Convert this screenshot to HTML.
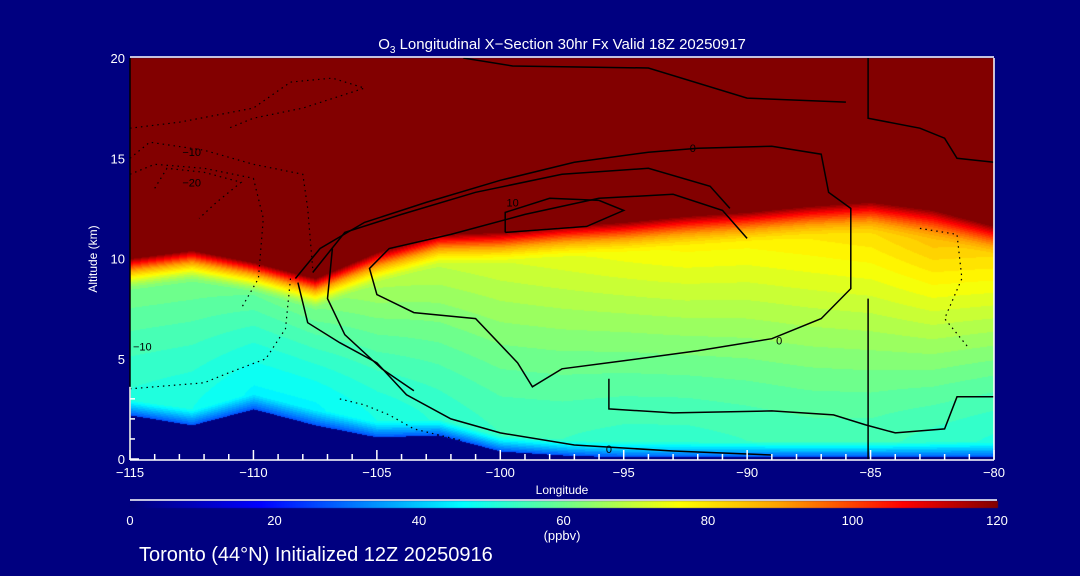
<!DOCTYPE html>
<html><head><meta charset="utf-8"><style>
html,body{margin:0;padding:0;background:#000080;width:1080px;height:576px;overflow:hidden}
#wrap{position:relative;width:1080px;height:576px;font-family:"Liberation Sans",sans-serif;color:#fff}
canvas,svg{position:absolute;left:0;top:0}
</style></head><body>
<div id="wrap">
<canvas id="cv" width="1080" height="576"></canvas>
<svg id="sv" width="1080" height="576"></svg>
</div>
<script>
// ---- data ----
const lons = [-115,-112.5,-110,-107.5,-105,-102.5,-100,-97.5,-95,-92.5,-90,-87.5,-85,-82.5,-80];
const tropAlt = [10.0,10.4,9.8,9.0,10.3,11.2,11.3,11.6,11.8,12.1,12.3,12.6,12.8,12.4,11.6];
const terrainAlt = [2.2,1.7,2.5,1.7,1.1,1.2,0.4,0.2,0.1,0.1,0.1,0.1,0.1,0.1,0.1];
const upperVal = [62,62,60,62,68,70,72,74,76,78,78,80,82,86,82];
const lowerVal = [52,50,47,47,50,53,55,55,54,54,55,56,56,54,52];
const xTicks = [-115,-110,-105,-100,-95,-90,-85,-80];
const yTicks = [0,5,10,15,20];
const cbTicks = [0,20,40,60,80,100,120];
const solidContours = [
 [[-108.3,9.0],[-107.3,10.5],[-105.5,11.8],[-103,12.8],[-100,13.9],[-97,14.8],[-94,15.3],[-92,15.5],[-89,15.6],[-87,15.2],[-86.7,13.3],[-85.8,12.5],[-85.8,8.5],[-87,7],[-89,6],[-92,5.4],[-95,4.9],[-97.5,4.5],[-98.7,3.6],[-99.3,4.8],[-101,7],[-103.5,7.3],[-105,8.2],[-105.3,9.5],[-104.5,10.5],[-102,11.2],[-99,12.2],[-96,13],[-93,13.2],[-91,12.4],[-90,11]],
 [[-107.6,9.3],[-106.3,11.3],[-104,12.2],[-101,13.3],[-97.5,14.2],[-94,14.5],[-91.5,13.6],[-90.7,12.5]],
 [[-99.8,11.3],[-99.8,12.3],[-98,13],[-96,12.9],[-95,12.4],[-96.5,11.6],[-99.8,11.3]],
 [[-108.2,8.8],[-107.8,6.8],[-106.5,5.8],[-105,4.8],[-103.8,3.2],[-102,2.0],[-100,1.3],[-97,0.7],[-93,0.4],[-89,0.2]],
 [[-106.8,10.5],[-107,8.0],[-106.3,6.2],[-104.8,4.5],[-103.5,3.4]],
 [[-95.6,4.0],[-95.6,2.5],[-93,2.3],[-89,2.4],[-86.5,2.2],[-85.2,1.7],[-84,1.3],[-82,1.5],[-81.5,3.1],[-80,3.1]],
 [[-85.1,20],[-85.1,17],[-83,16.5],[-82,16],[-81.5,15],[-80,14.8]],
 [[-101.5,20],[-99.5,19.6],[-94,19.5],[-90,18],[-86,17.8]],
 [[-85.1,8],[-85.1,0]]
];
const dottedContours = [
 [[-115,16.5],[-113,16.8],[-110,17.5],[-108.5,18.8],[-106.8,19],[-105.5,18.5],[-108,17.5],[-110,17],[-111,16.5]],
 [[-115,15],[-114.2,15.8],[-112,15.4],[-110,14.7],[-108,14.2],[-107.8,12.5],[-107.6,9.5]],
 [[-114,13.5],[-113.5,14.5],[-112,14.3],[-110.5,13.8],[-111.5,12.8],[-112.2,12]],
 [[-115,14.2],[-114,14.7],[-112,14.5],[-110,14],[-109.6,12],[-109.8,9],[-110.5,7.5]],
 [[-108.5,9],[-108.7,6.5],[-109.5,5],[-111,4.3],[-112,3.8],[-115,3.5]],
 [[-106.5,3.0],[-105.5,2.7],[-104.5,2.2],[-103.5,1.5],[-101.5,0.9]],
 [[-83,11.5],[-81.5,11.2],[-81.3,9],[-82,7],[-81,5.5]]
];
// ---- geometry ----
const X0=130,X1=994,Y0=459,Y1=58;
function xS(l){return X0+(l+115)/35*(X1-X0);}
function yS(a){return Y0-a/20*(Y0-Y1);}
function interp(arr,l){
  if(l<=lons[0])return arr[0];
  for(let i=0;i<lons.length-1;i++){if(l<=lons[i+1]){const t=(l-lons[i])/(lons[i+1]-lons[i]);return arr[i]+(arr[i+1]-arr[i])*t;}}
  return arr[arr.length-1];
}
const cstops=[[0,[0,0,120]],[18,[0,0,255]],[30,[0,110,255]],[46,[0,255,255]],[60,[110,255,140]],[76,[255,255,0]],[90,[255,160,0]],[107,[255,0,0]],[120,[130,0,0]]];
function cmap(v){
  v=Math.max(0,Math.min(120,v));
  for(let i=0;i<cstops.length-1;i++){const a=cstops[i],b=cstops[i+1];if(v<=b[0]){const t=(v-a[0])/(b[0]-a[0]);return [0,1,2].map(k=>Math.round(a[1][k]+(b[1][k]-a[1][k])*t));}}
  return cstops[cstops.length-1][1];
}
function val(l,a){
  const T=interp(tropAlt,l),G=interp(terrainAlt,l),U=interp(upperVal,l),L=interp(lowerVal,l);
  if(a<G)return null;
  if(a>=T)return 120;
  const Ts=T-1.6;
  if(a>Ts){const t=(a-Ts)/1.6;return U+(120-U)*Math.pow(t,1.5);}
  const h=a-G;
  if(h<0.8)return 28+(L-28)*(h/0.8);
  const f=(a-(G+0.8))/(Ts-(G+0.8));return L+(U-L)*Math.pow(f,1.3);
}
// ---- field ----
const cv=document.getElementById('cv'),ctx=cv.getContext('2d');
const img=ctx.createImageData(X1-X0,Y0-Y1);
for(let py=0;py<Y0-Y1;py++){for(let px=0;px<X1-X0;px++){
  const l=-115+px/(X1-X0)*35,a=(Y0-Y1-py)/(Y0-Y1)*20;
  let v=val(l,a);const i=(py*(X1-X0)+px)*4;
  let c=v===null?[0,0,128]:cmap(Math.floor(v/2.5)*2.5);
  img.data[i]=c[0];img.data[i+1]=c[1];img.data[i+2]=c[2];img.data[i+3]=255;}}
ctx.putImageData(img,X0,Y1);
// colorbar
for(let x=X0;x<=997;x++){const c=cmap((x-X0)/(997-X0)*120);ctx.fillStyle=`rgb(${c[0]},${c[1]},${c[2]})`;ctx.fillRect(x,501,1,7);}
// ---- overlay ----
const NS='http://www.w3.org/2000/svg',sv=document.getElementById('sv');
function mk(tag,at,parent){const e=document.createElementNS(NS,tag);for(const k in at)e.setAttribute(k,at[k]);(parent||sv).appendChild(e);return e;}
function pts(c){return c.map(p=>xS(p[0]).toFixed(1)+','+yS(p[1]).toFixed(1)).join(' ');}
solidContours.forEach(c=>{const e=mk('polyline',{points:pts(c),fill:'none',stroke:'#000','stroke-width':1.5});

});
dottedContours.forEach(c=>{const e=mk('polyline',{points:pts(c),fill:'none',stroke:'#000','stroke-width':1.2,'stroke-dasharray':'1.5 4'});

});
// axes
const ax=mk('g',{stroke:'#fff','stroke-width':1.5,fill:'none'});


mk('line',{x1:X0,y1:Y1-1,x2:X1,y2:Y1-1},ax);
mk('line',{x1:X0,y1:Y0+1,x2:X1,y2:Y0+1},ax);
mk('line',{x1:X1,y1:Y1,x2:X1,y2:Y0},ax);
mk('line',{x1:X0,y1:Y1,x2:X0,y2:Y0+1,stroke:'#000'},ax);
mk('line',{x1:X0,y1:yS(3.6),x2:X0,y2:Y0+1},ax);
for(let l=-115;l<=-80;l++){mk('line',{x1:xS(l),y1:Y0+1,x2:xS(l),y2:Y0-(l%5===0?9:5)},ax);}
for(let a=0;a<=3;a++){mk('line',{x1:X0,y1:yS(a),x2:X0+(a%5===0?9:5),y2:yS(a)},ax);}
mk('line',{x1:X0,y1:500,x2:997,y2:500},ax);
function txt(s,x,y,at){const e=mk('text',Object.assign({x:x,y:y,fill:'#fff','font-family':'Liberation Sans, sans-serif','font-size':13},at||{}));e.textContent=s;return e;}
xTicks.forEach(t=>{const e=txt(String(t).replace('-','\u2212'),xS(t),477,{'text-anchor':'middle'});

});
yTicks.forEach(t=>{const e=txt(String(t),X0-5,yS(t)+5,{'text-anchor':'end'});

});
cbTicks.forEach(t=>{const e=txt(String(t),X0+t/120*(997-X0),525,{'text-anchor':'middle'});

});
const xt=txt('Longitude',562,494,{'text-anchor':'middle','font-size':12});

const yt=txt('Altitude (km)',0,0,{'text-anchor':'middle','font-size':12,transform:'translate(97,259) rotate(-90)'});

const ut=txt('(ppbv)',562,540,{'text-anchor':'middle','font-size':13});

const tt=mk('text',{x:562,y:49,fill:'#fff','font-family':'Liberation Sans, sans-serif','font-size':15,'text-anchor':'middle'});
tt.innerHTML='O<tspan font-size="10" dy="4">3</tspan><tspan dy="-4"> Longitudinal X\u2212Section 30hr  Fx Valid 18Z 20250917</tspan>';

const bt=txt('Toronto (44\u00B0N) Initialized 12Z 20250916',139,561,{'font-size':20});

// contour labels
[['0',-92.2,15.5],['10',-99.5,12.8],['0',-88.7,5.9],['0',-95.6,0.5],['\u221210',-112.5,15.3],['\u221220',-112.5,13.8],['\u221210',-114.5,5.6]].forEach(p=>{
 const e=txt(p[0],xS(p[1]),yS(p[2])+4,{'text-anchor':'middle','font-size':11,fill:'#000'});
 
 });
</script>
</body></html>
